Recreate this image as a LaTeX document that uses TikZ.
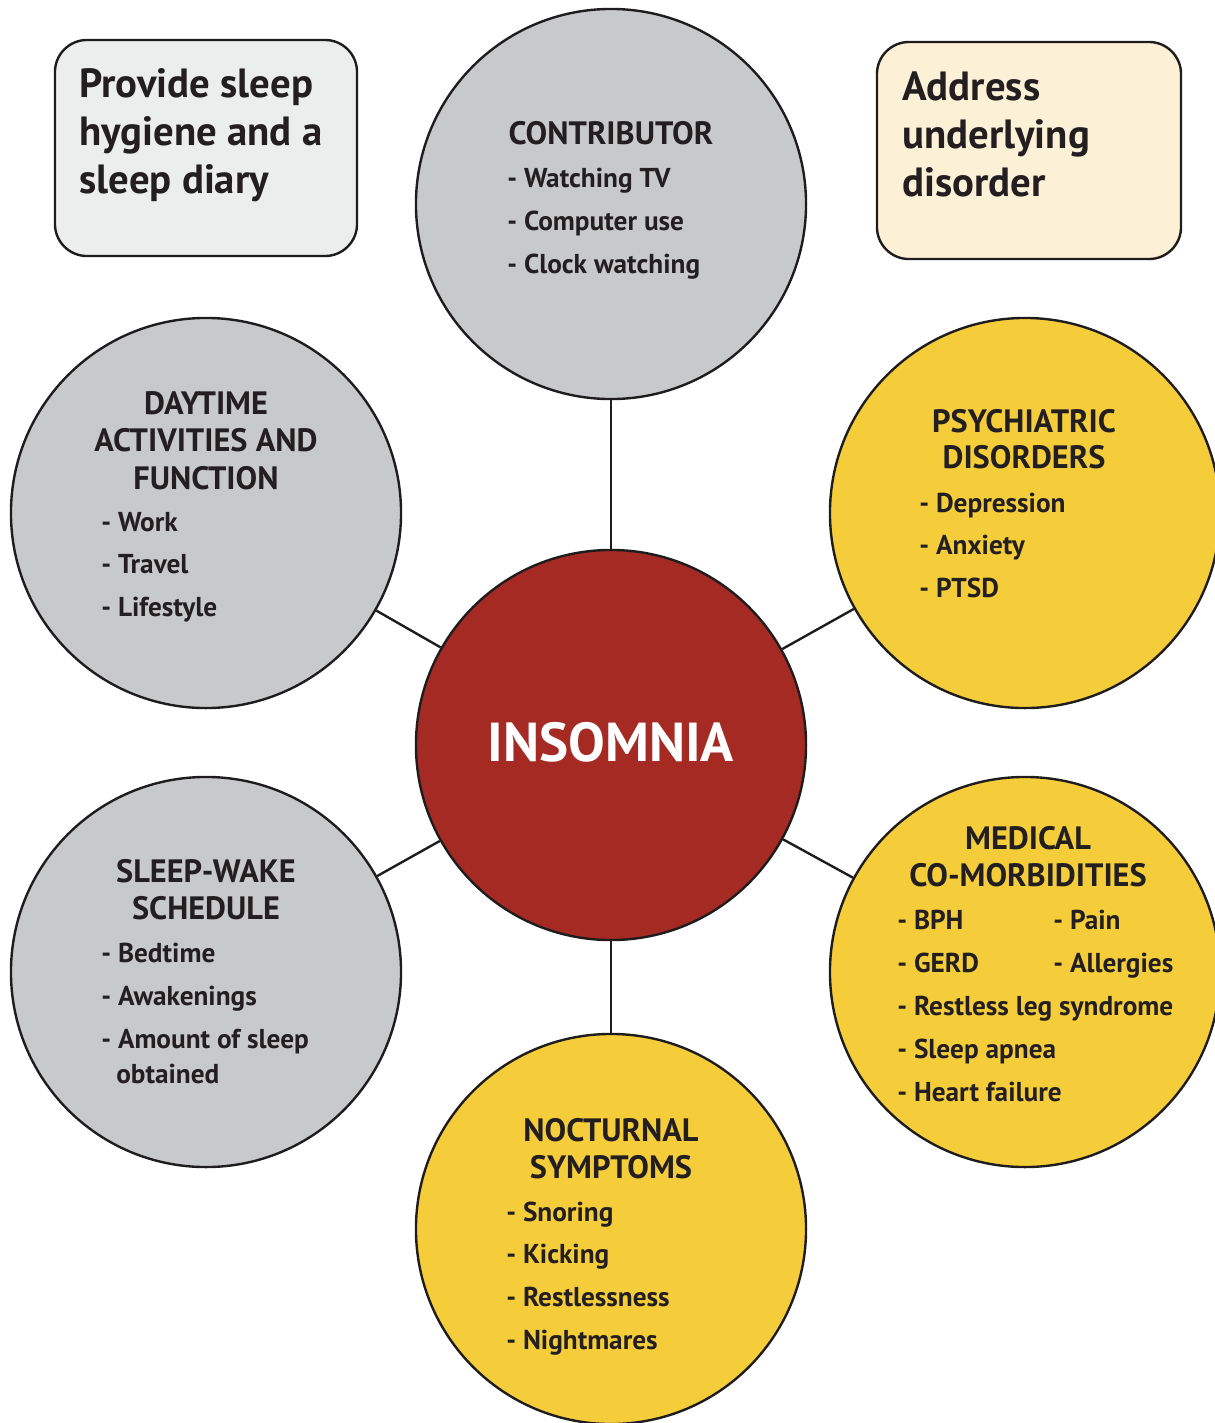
\documentclass[tikz,border=0pt]{standalone}
\usepackage{fontspec}
\setmainfont{PT Sans}
\definecolor{greyfill}{HTML}{C8C9CB}
\definecolor{yellowfill}{HTML}{F5CD3B}
\definecolor{redfill}{HTML}{A52A24}
\definecolor{notegrey}{HTML}{ECEEEE}
\definecolor{notecream}{HTML}{FCF1D6}
\definecolor{ink}{HTML}{231F20}
\definecolor{linec}{HTML}{1E1C1D}
\begin{document}
\begin{tikzpicture}[x=0.025cm,y=-0.025cm,
  bubble/.style={circle, draw=linec, line width=1.7pt, minimum size=9.75cm, inner sep=0pt},
  greyb/.style={bubble, fill=greyfill},
  yellowb/.style={bubble, fill=yellowfill},
  hub/.style={bubble, fill=redfill},
  head/.style={anchor=base, font=\bfseries\fontsize{23}{27}\selectfont, text=ink, inner sep=0pt},
  entry/.style={anchor=base west, font=\bfseries\fontsize{19.4}{23}\selectfont, text=ink, inner sep=0pt},
  notebox/.style={draw=linec, line width=1.7pt, rounded corners=0.8cm, inner sep=0pt},
  notetext/.style={anchor=base west, font=\bfseries\fontsize{29}{33}\selectfont, text=ink, inner sep=0pt},
  link/.style={draw=linec, line width=1.7pt}]
\clip (0,0) rectangle (1215,1423);

% advice boxes
\node[notebox, fill=notegrey, minimum width=7.55cm, minimum height=5.4cm] (hyg) at (206,148) {};
\node[notebox, fill=notecream, minimum width=7.6cm, minimum height=5.425cm] (und) at (1029,150.5) {};
\foreach \t [count=\i] in {Provide sleep, hygiene and a, sleep diary}
  \node[notetext] (hyg\i) at (79,{97+48*(\i-1)}) {\t};
\foreach \t [count=\i] in {Address, underlying, disorder}
  \node[notetext] (und\i) at (902,{100+48*(\i-1)}) {\t};

% bubbles
\node[hub] (ins) at (611,745) {};
\node[greyb] (con) at (611,204) {};
\node[greyb] (day) at (206,513) {};
\node[greyb] (swk) at (206,972) {};
\node[yellowb] (psy) at (1025,513) {};
\node[yellowb] (med) at (1025,972) {};
\node[yellowb] (noc) at (611,1229) {};

% spokes
\foreach \b in {con,day,swk,psy,med,noc}
  \draw[link] (ins) -- (\b);

% centre label
\node[anchor=base, font=\bfseries\fontsize{39}{42}\selectfont, text=white, inner sep=0pt] (insl) at (611,761) {INSOMNIA};

% contributor
\node[head] (conh) at (611,144) {CONTRIBUTOR};
\foreach \t [count=\i] in {Watching TV, Computer use, Clock watching}
  \node[entry] (con\i) at (507,{187+43*(\i-1)}) {- \t};

% daytime activities
\foreach \t [count=\i] in {DAYTIME, ACTIVITIES AND, FUNCTION}
  \node[head] (dayh\i) at (206,{414+37.5*(\i-1)}) {\t};
\foreach \t [count=\i] in {Work, Travel, Lifestyle}
  \node[entry] (day\i) at (101,{531+42.5*(\i-1)}) {- \t};

% sleep-wake schedule
\foreach \t [count=\i] in {SLEEP-WAKE, SCHEDULE}
  \node[head] (swkh\i) at (206,{882+37*(\i-1)}) {\t};
\foreach \t [count=\i] in {Bedtime, Awakenings, Amount of sleep}
  \node[entry] (swk\i) at (101,{962+43*(\i-1)}) {- \t};
\node[entry] (swk4) at (116,1083) {obtained};

% psychiatric disorders
\foreach \t [count=\i] in {PSYCHIATRIC, DISORDERS}
  \node[head] (psyh\i) at (1024,{432+36.5*(\i-1)}) {\t};
\foreach \t [count=\i] in {Depression, Anxiety, PTSD}
  \node[entry] (psy\i) at (919,{512+42.5*(\i-1)}) {- \t};

% medical co-morbidities
\foreach \t [count=\i] in {MEDICAL, CO-MORBIDITIES}
  \node[head] (medh\i) at (1028,{849+37.5*(\i-1)}) {\t};
\foreach \t [count=\i] in {BPH, GERD, Restless leg syndrome, Sleep apnea, Heart failure}
  \node[entry] (med\i) at (897,{929+43*(\i-1)}) {- \t};
\node[entry] (med6) at (1053,929) {- Pain};
\node[entry] (med7) at (1053,972) {- Allergies};

% nocturnal symptoms
\foreach \t [count=\i] in {NOCTURNAL, SYMPTOMS}
  \node[head] (noch\i) at (611,{1141+37*(\i-1)}) {\t};
\foreach \t [count=\i] in {Snoring, Kicking, Restlessness, Nightmares}
  \node[entry] (noc\i) at (506,{1221+42.7*(\i-1)}) {- \t};
\end{tikzpicture}
\end{document}
